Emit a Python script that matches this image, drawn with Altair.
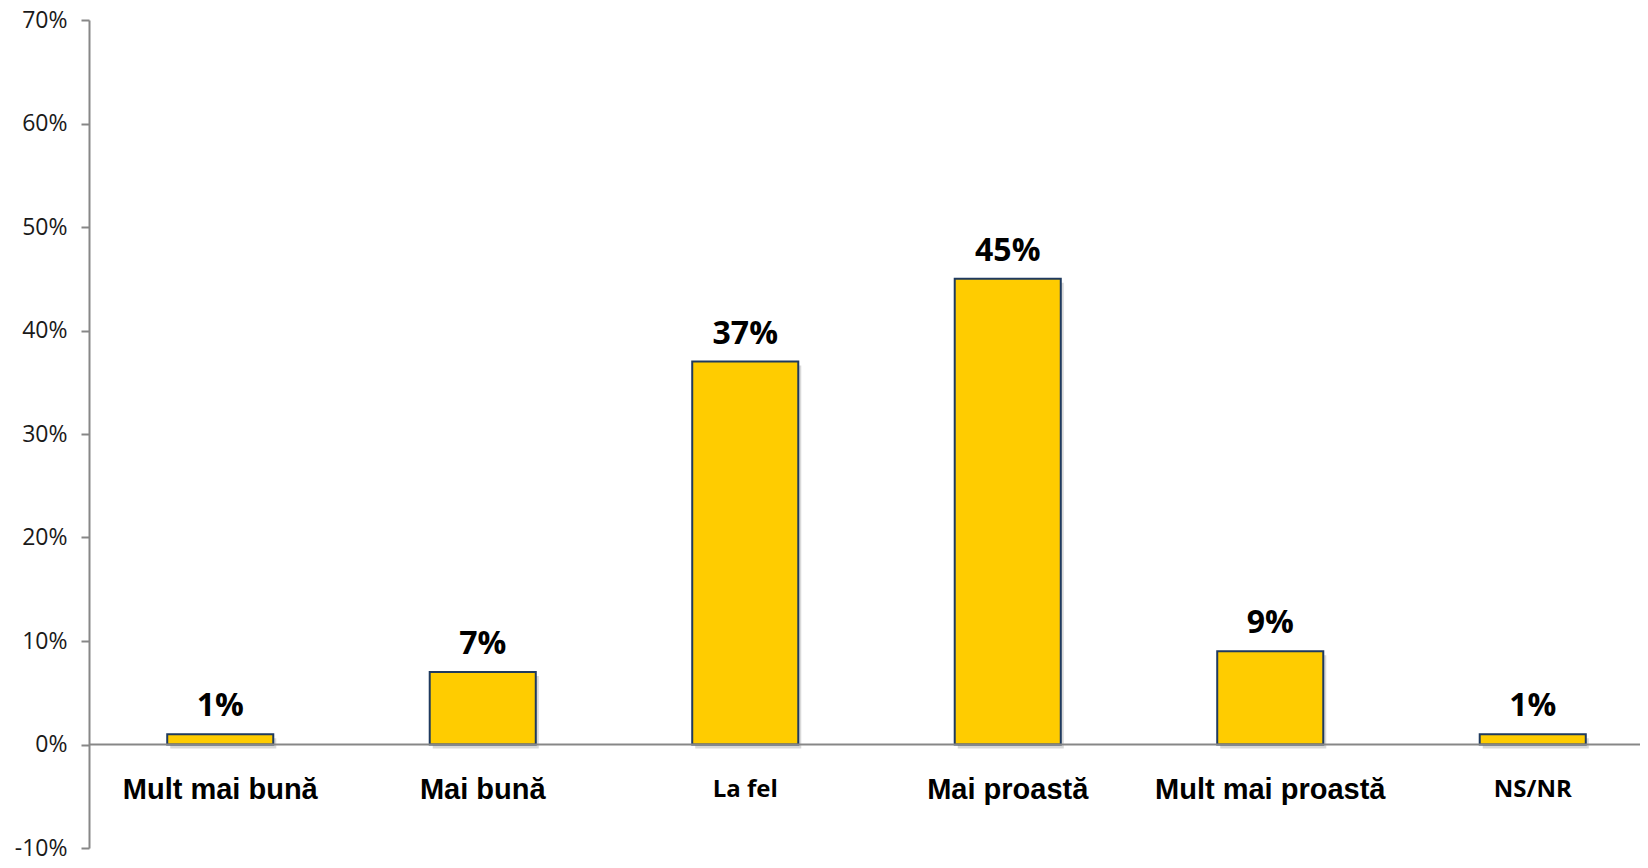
import altair as alt
import pandas as pd

categories = ["Mult mai bună", "Mai bună", "La fel", "Mai proastă", "Mult mai proastă", "NS/NR"]
values = [0.01, 0.07, 0.37, 0.45, 0.09, 0.01]
y_ticks = [-0.1, 0, 0.1, 0.2, 0.3, 0.4, 0.5, 0.6, 0.7]

df = pd.DataFrame({"cat": categories, "val": values})

W, H = 1551, 828
small = "datum.value == 'La fel' || datum.value == 'NS/NR'"

x = alt.X(
    "cat:N",
    sort=categories,
    scale=alt.Scale(paddingInner=0.596, paddingOuter=0.298, range=[0, 1575]),
    axis=alt.Axis(
        title=None,
        domain=False,
        ticks=False,
        grid=False,
        labelAngle=0,
        labelLimit=0,
        offset=-(H * 0.1 / 0.8),
        labelPadding=45,
        labelBaseline="middle",
        labelColor="#000000",
        labelFontWeight="bold",
        labelFont=alt.condition(small, alt.value("Open Sans"), alt.value("Liberation Sans")),
        labelFontSize=alt.condition(small, alt.value(24), alt.value(29)),
    ),
)
y_scale = alt.Scale(domain=[-0.1, 0.7], nice=False)
y_axis = alt.Axis(
    title=None,
    values=y_ticks,
    labelExpr="(datum.value < 0 ? '-' : '') + format(abs(datum.value), '.0%')",
    grid=False,
    domainColor="#878787",
    domainWidth=2,
    tickColor="#878787",
    tickWidth=2,
    tickSize=8,
    labelFont="Open Sans",
    labelFontSize=23,
    labelColor="#1a1a1a",
    labelPadding=14,
)
y = alt.Y("val:Q", scale=y_scale, axis=y_axis)

base = alt.Chart(df)

shadow = base.mark_bar(fill="#000000", opacity=0.15, xOffset=3, yOffset=4).encode(x=x, y=y)
bars = base.mark_bar(fill="#FFCC00", stroke="#1F3A5F", strokeWidth=2).encode(x=x, y=y)
zero = alt.Chart(pd.DataFrame({"z": [0]})).mark_rule(color="#878787", strokeWidth=2).encode(
    y=alt.Y("z:Q", scale=y_scale, axis=y_axis)
)
labels = base.mark_text(
    font="Open Sans", fontWeight="bold", fontSize=32, dy=-18, baseline="alphabetic", color="#000000"
).encode(x=x, y=y, text=alt.Text("val:Q", format=".0%"))

chart = (
    alt.layer(shadow, bars, zero, labels)
    .properties(width=W, height=H, padding={"left": 81, "top": 12, "right": 0, "bottom": 12},
                autosize="none", background="white")
    .configure_view(strokeWidth=0, stroke="transparent")
    .configure_axis(grid=False)
)

chart.save("out.html", embed_options={"renderer": "svg", "actions": False})
